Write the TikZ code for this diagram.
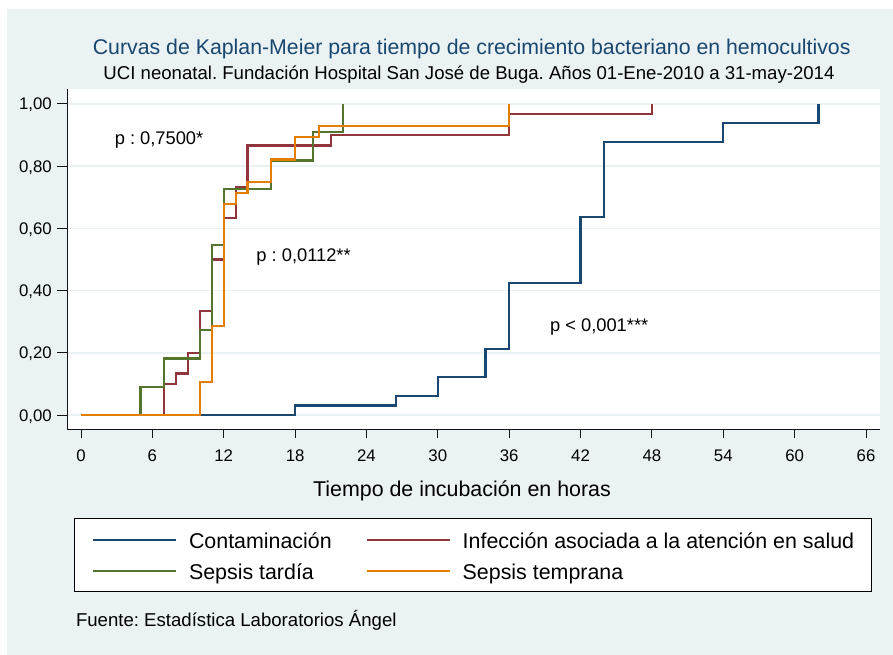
\documentclass[tikz,border=0pt]{standalone}
\usepackage{fontspec}
\setmainfont{Liberation Sans}
\frenchspacing
\definecolor{bgc}{RGB}{234,242,243}
\definecolor{gridc}{RGB}{234,242,243}
\definecolor{navyc}{RGB}{26,71,111}
\definecolor{maroonc}{RGB}{144,53,59}
\definecolor{greenc}{RGB}{85,117,47}
\definecolor{orangec}{RGB}{227,126,0}
\definecolor{axisc}{RGB}{20,20,20}
\begin{document}
\frenchspacing
\begin{tikzpicture}[x=1pt,y=-1pt,
  every node/.style={inner sep=0pt, outer sep=0pt},
  curve/.style={line width=2.2pt, line join=miter},
  legline/.style={line width=2.2pt},
  ticklab/.style={font=\fontsize{16.8}{20}\selectfont},
  pval/.style={font=\fontsize{18.3}{22}\selectfont, anchor=base east},
  legtext/.style={font=\fontsize{21.4}{25}\selectfont, anchor=base west},
  axisline/.style={axisc, line width=1pt}]
\useasboundingbox (0,0) rectangle (893,655);
% background regions
\fill[bgc] (7,9) rectangle (893,655);
\fill[white] (67,89) rectangle (880,429);
% grid lines and y ticks
\foreach \s/\l in {0/{0,00},0.2/{0,20},0.4/{0,40},0.6/{0,60},0.8/{0,80},1/{1,00}}{
  \draw[gridc, line width=1.5pt] (68,{415-311*\s}) -- (880,{415-311*\s});
  \draw[axisline] (57,{415-311*\s}) -- (67,{415-311*\s});
  \node[ticklab, anchor=base east] (ylab\s) at (51.7,{421-311*\s}) {\l};
}
% x ticks
\foreach \t in {0,6,...,66}{
  \draw[axisline] ({81+11.894*\t},429) -- ({81+11.894*\t},438);
  \node[ticklab, anchor=base] (xlab\t) at ({81+11.894*\t},461.5) {\t};
}
% axes
\draw[axisline] (67,89) -- (67,429) -- (880,429);
% curves
\begin{scope}[shift={(81,415)}, x=11.894pt, y=311pt]
  \draw[curve, navyc] (0,0) -| (18,1/33) -| (26.5,2/33) -| (30,4/33) -| (34,7/33)
    -| (36,14/33) -| (42,21/33) -| (44,29/33) -| (54,31/33) -| (62,1);
  \draw[curve, maroonc] (0,0) -| (7,3/30) -| (8,4/30) -| (9,6/30) -| (10,10/30)
    -| (11,15/30) -| (12,19/30) -| (13,22/30) -| (14,26/30) -| (21,27/30)
    -| (36,29/30) -| (48,1);
  \draw[curve, greenc] (0,0) -| (5,1/11) -| (7,2/11) -| (10,3/11) -| (11,6/11)
    -| (12,8/11) -| (16,9/11) -| (19.5,10/11) -| (22,1);
  \draw[curve, orangec] (0,0) -| (10,3/28) -| (11,8/28) -| (12,19/28) -| (13,20/28)
    -| (14,21/28) -| (16,23/28) -| (18,25/28) -| (20,26/28) -| (36,1);
\end{scope}
% p values
\node[pval] (p1) at (203.3,144.3) {p : 0,7500*};
\node[pval] (p2) at (350.7,261.7) {p : 0,0112**};
\node[pval] (p3) at (648.3,331) {p < 0,001***};
% titles
\node[anchor=base, text=navyc, font=\fontsize{21.3}{25}\selectfont] (title) at (471.7,55) {Curvas de Kaplan-Meier para tiempo de crecimiento bacteriano en hemocultivos};
\node[anchor=base, font=\fontsize{18.6}{22}\selectfont] (subtitle) at (469,80) {UCI neonatal. Fundación Hospital San José de Buga. Años 01-Ene-2010 a 31-may-2014};
\node[anchor=base, font=\fontsize{21.4}{25}\selectfont] (xtitle) at (462,496) {Tiempo de incubación en horas};
% legend
\node[draw=black, fill=white, line width=0.9pt, minimum width=797.4pt, minimum height=72.7pt, anchor=north west] (legbox) at (74.3,518.3) {};
\draw[legline, navyc] (93.3,540) -- (175.7,540);
\node[legtext] (l1) at (189,548.3) {Contaminación};
\draw[legline, maroonc] (367,540) -- (450,540);
\node[legtext] (l2) at (462.7,548.3) {Infección asociada a la atención en salud};
\draw[legline, greenc] (93.3,570.7) -- (175.7,570.7);
\node[legtext] (l3) at (189,579) {Sepsis tardía};
\draw[legline, orangec] (367,570.7) -- (450,570.7);
\node[legtext] (l4) at (462.7,579) {Sepsis temprana};
% source
\node[anchor=base west, font=\fontsize{18.6}{22}\selectfont] (src) at (76,626) {Fuente: Estadística Laboratorios Ángel};
\end{tikzpicture}
\end{document}
